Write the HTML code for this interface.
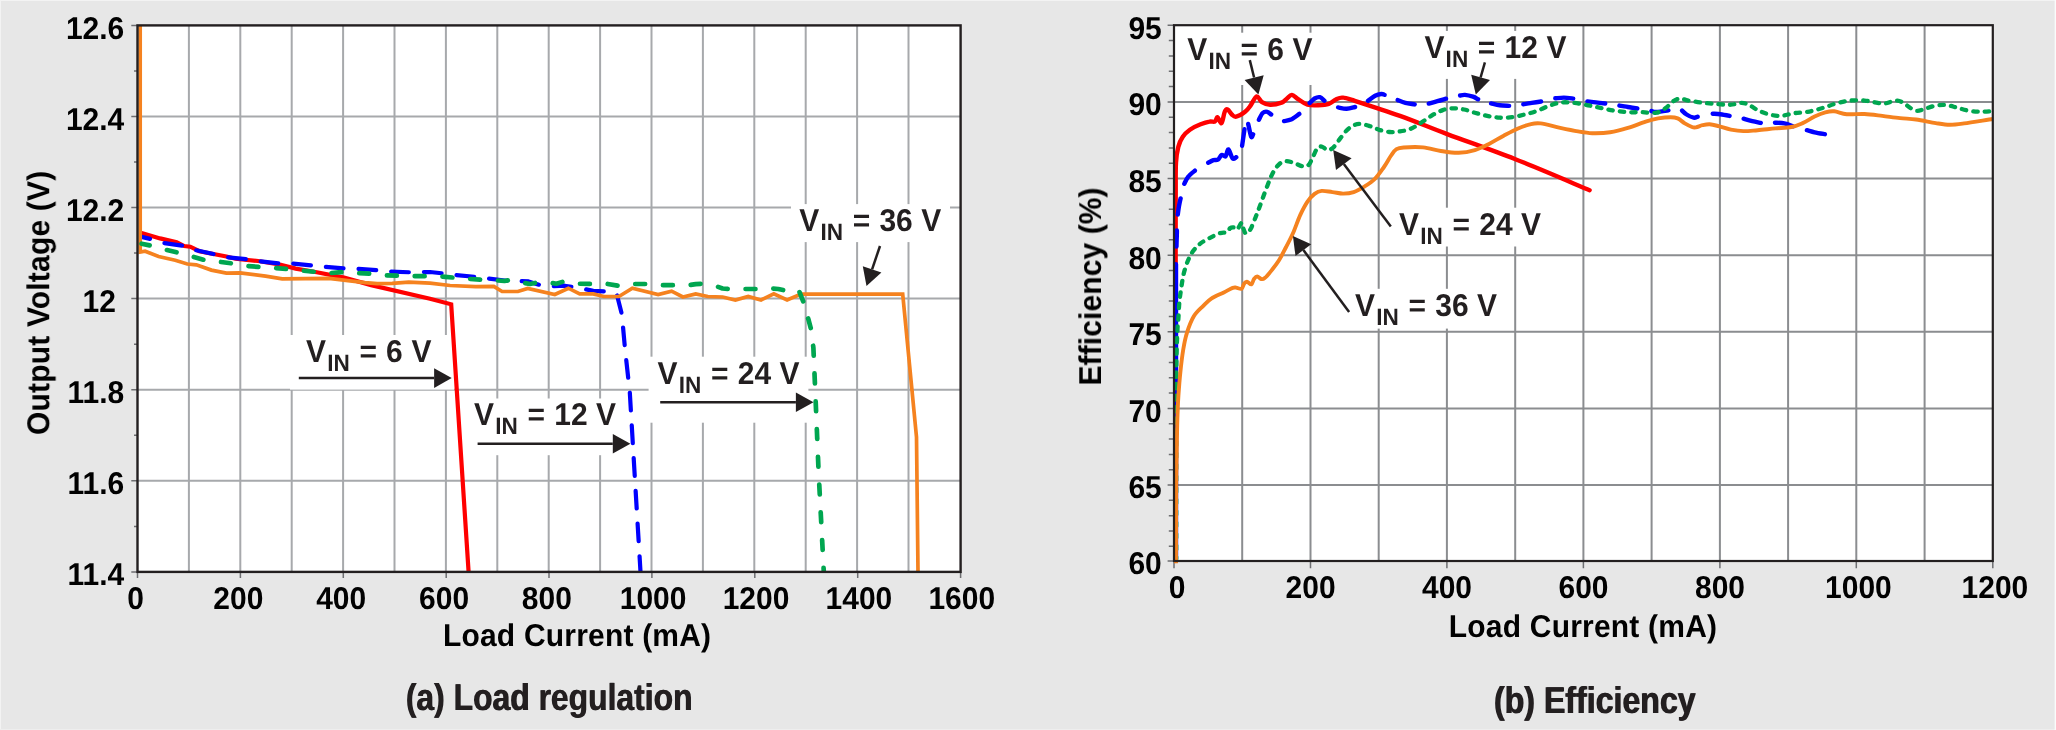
<!DOCTYPE html>
<html><head><meta charset="utf-8"><title>Load regulation and efficiency</title>
<style>html,body{margin:0;padding:0;background:#e7e7e7;}svg{display:block;}</style></head>
<body>
<svg width="2056" height="730" viewBox="0 0 2056 730" font-family="'Liberation Sans', sans-serif" font-weight="bold" text-rendering="geometricPrecision">
<rect width="2056" height="730" fill="#e7e7e7"/>
<rect width="2056" height="1" fill="#f3f3f3"/>
<rect width="1" height="730" fill="#f3f3f3"/>
<rect y="729" width="2056" height="1" fill="#eeeeee"/>
<rect x="2054.6" width="1.4" height="730" fill="#fbfbfb"/>
<rect x="137.5" y="25.4" width="823.1" height="546.5" fill="#fff"/>
<path d="M188.9,25.4V571.9M240.3,25.4V571.9M291.7,25.4V571.9M343.1,25.4V571.9M394.5,25.4V571.9M445.9,25.4V571.9M497.3,25.4V571.9M548.7,25.4V571.9M600.1,25.4V571.9M651.5,25.4V571.9M702.9,25.4V571.9M754.3,25.4V571.9M805.7,25.4V571.9M857.1,25.4V571.9M908.5,25.4V571.9M137.5,116.5H960.6M137.5,207.6H960.6M137.5,298.6H960.6M137.5,389.7H960.6M137.5,480.8H960.6" stroke="#a7a9ac" stroke-width="2" fill="none"/>
<path d="M131.3,25.4H137.5M134.0,70.9H137.5M131.3,116.5H137.5M134.0,162.0H137.5M131.3,207.6H137.5M134.0,253.1H137.5M131.3,298.6H137.5M134.0,344.2H137.5M131.3,389.7H137.5M134.0,435.3H137.5M131.3,480.8H137.5M134.0,526.4H137.5M131.3,571.9H137.5M137.5,571.9V578M240.4,571.9V578M343.3,571.9V578M446.2,571.9V578M549.0,571.9V578M651.9,571.9V578M754.8,571.9V578M857.7,571.9V578M960.6,571.9V578" stroke="#6d6e71" stroke-width="1.5" fill="none"/>
<rect x="290" y="335.0" width="164" height="54.6" fill="#fff"/>
<rect x="470" y="398.5" width="162" height="56.7" fill="#fff"/>
<rect x="648.6" y="356.7" width="159.8" height="66" fill="#fff"/>
<rect x="791" y="204.1" width="159" height="38.0" fill="#fff"/>
<g fill="none" stroke-linejoin="miter" clip-path="url(#cl)">
<path d="M141.6,233.1 L160.1,238.4 L176.7,242.2 L184.2,246.0 L190.3,246.7 L199.3,251.2 L226.4,256.5 L235.5,258.8 L258.1,261.0 L280.7,264.8 L295.7,268.6 L316.8,272.3 L344.0,277.6 L371.1,285.1 L430.0,298.7 L451.2,304.3 L468.6,572.0" stroke="#ff0000" stroke-width="4.2"/>
<path d="M141.6,236.9 L152.6,239.5 L163.1,242.9 L184.2,246.0 L193.3,249.7 L214.4,254.2 L226.4,257.3 L246.0,259.1 L258.1,261.0 L280.7,263.6 L289.7,263.3 L312.3,265.5 L322.9,266.7 L345.5,268.6 L356.0,268.6 L377.1,270.1 L389.2,271.6 L410.2,272.3 L430.0,272.0 L442.6,273.4 L454.7,275.0 L475.7,276.9 L487.0,278.4 L508.9,281.0 L519.4,281.0 L528.5,281.4 L540.5,285.2 L551.1,286.4 L564.6,285.7 L572.9,287.2 L584.2,289.0 L593.3,290.9 L606.1,291.5 L616.6,293.5 L621.9,314.6 L624.9,347.7 L629.8,392.4 L634.5,471.9 L640.5,572.0" stroke="#0000ff" stroke-width="4.2" stroke-dasharray="17.7 15.06" stroke-dashoffset="9.06" stroke-linecap="round" stroke-linejoin="round"/>
<path d="M140.2,24.0 L140.2,252.0 L145.1,251.2 L158.6,256.5 L175.2,260.3 L187.3,264.0 L196.3,264.8 L211.4,270.1 L226.4,273.1 L240.0,272.8 L265.6,276.1 L282.2,278.8 L328.9,278.3 L365.0,282.6 L377.1,283.6 L392.2,283.3 L408.7,282.1 L430.0,283.2 L450.1,285.5 L475.7,286.7 L493.8,286.4 L502.1,291.5 L517.9,291.5 L527.7,288.5 L554.8,294.5 L568.4,288.2 L579.7,293.9 L593.3,293.9 L603.8,296.5 L618.9,296.5 L632.4,288.2 L658.1,294.5 L671.6,291.2 L682.9,297.0 L695.7,293.9 L707.8,296.5 L722.6,297.0 L735.4,300.0 L748.2,296.5 L761.0,300.0 L773.8,293.9 L787.1,300.0 L801.0,294.1 L902.7,294.1 L916.5,437.0 L918.0,572.0" stroke="#f5821f" stroke-width="3.7"/>
<path d="M141.6,243.7 L152.6,246.0 L165.4,249.7 L178.2,252.7 L192.5,256.5 L205.3,260.3 L219.7,261.8 L233.2,263.6 L246.8,266.0 L260.3,267.0 L274.6,268.1 L288.2,269.0 L301.8,270.5 L316.1,272.0 L330.4,273.1 L344.0,272.0 L357.5,273.1 L371.8,273.8 L385.4,275.3 L399.7,275.8 L413.3,276.1 L426.0,276.2 L441.1,276.6 L454.7,277.7 L469.0,278.9 L483.3,279.9 L496.8,280.4 L504.4,281.0 L510.4,279.9 L524.0,282.9 L530.0,284.0 L539.0,282.2 L551.1,282.9 L556.4,283.7 L563.9,281.4 L578.2,283.7 L591.0,284.0 L606.1,283.7 L619.6,286.0 L633.2,284.0 L647.5,284.0 L661.1,285.2 L674.6,285.2 L689.0,285.2 L695.7,284.1 L703.0,283.7 L715.8,286.0 L722.6,288.5 L729.4,289.0 L742.9,289.0 L757.3,289.0 L770.8,288.5 L778.3,289.0 L785.1,290.5 L798.7,290.0 L804.0,303.3 L807.7,316.8 L811.4,330.4 L813.4,348.0 L815.8,404.3 L818.6,471.9 L823.8,572.0" stroke="#00a650" stroke-width="4.7" stroke-dasharray="9.9 17.89" stroke-dashoffset="1.69" stroke-linecap="round" stroke-linejoin="round"/>
</g>
<clipPath id="cl"><rect x="137.5" y="25.4" width="823.1" height="546.5"/></clipPath>
<rect x="137.5" y="25.4" width="823.1" height="546.5" fill="none" stroke="#231f20" stroke-width="2.4"/>
<path d="M298.8,378.1L434.1,378.1" stroke="#231f20" stroke-width="2.5" fill="none"/><path d="M451.7,378.1L434.1,387.9L434.1,368.3Z" fill="#231f20"/>
<path d="M477.6,443.8L612.8,443.8" stroke="#231f20" stroke-width="2.5" fill="none"/><path d="M630.4,443.8L612.8,453.6L612.8,434.0Z" fill="#231f20"/>
<path d="M660.2,402.3L795.9,402.3" stroke="#231f20" stroke-width="2.5" fill="none"/><path d="M813.5,402.3L795.9,412.1L795.9,392.5Z" fill="#231f20"/>
<path d="M880.0,246.0L872.1,269.3" stroke="#231f20" stroke-width="2.5" fill="none"/><path d="M866.5,286.0L862.8,266.2L881.4,272.5Z" fill="#231f20"/>
<rect x="1174.0" y="25.2" width="818.8" height="535.8" fill="#fff"/>
<path d="M1242.2,25.2V561.0M1310.5,25.2V561.0M1378.7,25.2V561.0M1446.9,25.2V561.0M1515.2,25.2V561.0M1583.4,25.2V561.0M1651.6,25.2V561.0M1719.9,25.2V561.0M1788.1,25.2V561.0M1856.3,25.2V561.0M1924.6,25.2V561.0M1174.0,101.9H1992.8M1174.0,178.5H1992.8M1174.0,255.2H1992.8M1174.0,331.8H1992.8M1174.0,408.4H1992.8M1174.0,485.0H1992.8" stroke="#8b8d90" stroke-width="2" fill="none"/>
<path d="M1167.6,25.3H1174.0M1168.8,40.6H1174.0M1168.8,55.9H1174.0M1168.8,71.3H1174.0M1168.8,86.6H1174.0M1167.6,101.9H1174.0M1168.8,117.2H1174.0M1168.8,132.6H1174.0M1168.8,147.9H1174.0M1168.8,163.2H1174.0M1167.6,178.5H1174.0M1168.8,193.9H1174.0M1168.8,209.2H1174.0M1168.8,224.5H1174.0M1168.8,239.8H1174.0M1167.6,255.2H1174.0M1168.8,270.5H1174.0M1168.8,285.8H1174.0M1168.8,301.1H1174.0M1168.8,316.5H1174.0M1167.6,331.8H1174.0M1168.8,347.1H1174.0M1168.8,362.4H1174.0M1168.8,377.8H1174.0M1168.8,393.1H1174.0M1167.6,408.4H1174.0M1168.8,423.7H1174.0M1168.8,439.0H1174.0M1168.8,454.4H1174.0M1168.8,469.7H1174.0M1167.6,485.0H1174.0M1168.8,500.3H1174.0M1168.8,515.7H1174.0M1168.8,531.0H1174.0M1168.8,546.3H1174.0M1167.6,561.0H1174.0M1174.0,561.0V568.3M1310.5,561.0V568.3M1446.9,561.0V568.3M1583.4,561.0V568.3M1719.9,561.0V568.3M1856.3,561.0V568.3M1992.8,561.0V568.3" stroke="#6d6e71" stroke-width="1.5" fill="none"/>
<rect x="1182" y="32.7" width="133" height="52.3" fill="#fff"/>
<rect x="1420" y="30.9" width="150" height="48.0" fill="#fff"/>
<rect x="1395" y="207.7" width="150" height="38.8" fill="#fff"/>
<rect x="1350" y="288.8" width="150" height="39.8" fill="#fff"/>
<clipPath id="cr"><rect x="1174.0" y="25.2" width="818.8" height="538.0"/></clipPath>
<g fill="none" stroke-linejoin="round" clip-path="url(#cr)">
<path d="M1175.6,561.0 C1175.6,517.5 1175.6,360.2 1175.6,300.0 C1175.6,239.8 1175.6,222.9 1175.7,200.0 C1175.8,177.1 1175.5,171.5 1176.0,162.6 C1176.5,153.7 1177.3,150.9 1178.4,146.6 C1179.5,142.3 1180.9,139.6 1182.8,136.8 C1184.7,134.0 1186.9,131.8 1189.9,129.7 C1192.9,127.6 1197.3,125.6 1200.6,124.3 C1203.9,123.0 1207.1,122.0 1209.5,121.6 C1211.9,121.1 1213.6,122.3 1214.9,121.6 C1216.2,120.9 1216.4,117.0 1217.5,117.2 C1218.6,117.5 1220.4,124.0 1221.6,123.1 C1222.8,122.2 1223.7,114.1 1224.7,111.8 C1225.7,109.5 1226.5,109.0 1227.7,109.5 C1228.9,110.0 1230.4,113.3 1231.8,114.5 C1233.2,115.7 1234.0,117.2 1236.2,116.7 C1238.4,116.2 1242.7,113.7 1245.1,111.8 C1247.5,109.9 1248.6,108.2 1250.5,105.6 C1252.4,103.0 1254.8,97.0 1256.7,96.4 C1258.6,95.8 1259.8,100.7 1262.0,102.1 C1264.2,103.5 1266.8,104.6 1270.1,104.7 C1273.4,104.8 1278.8,103.6 1281.6,102.6 C1284.4,101.6 1285.3,99.8 1287.0,98.5 C1288.7,97.2 1289.9,94.8 1291.8,94.9 C1293.7,95.1 1295.9,97.8 1298.5,99.4 C1301.1,101.0 1304.2,103.7 1307.5,104.7 C1310.8,105.7 1314.5,105.5 1318.1,105.3 C1321.6,105.1 1325.8,104.8 1328.8,103.8 C1331.8,102.8 1333.7,100.4 1335.9,99.4 C1338.1,98.4 1339.5,97.5 1342.2,97.6 C1344.9,97.7 1342.4,96.9 1352.0,99.9 C1361.6,103.0 1384.1,110.2 1400.0,115.9 C1415.9,121.6 1428.1,126.9 1447.2,134.1 C1466.3,141.3 1491.1,149.7 1514.8,159.0 C1538.5,168.3 1577.1,185.0 1589.6,190.2" stroke="#ff0000" stroke-width="4.4" stroke-linecap="round"/>
<path d="M1176.0,558.8 C1176.0,509.7 1176.0,313.3 1176.0,264.2 M1176.5,246.6 C1176.5,244.8 1176.7,238.7 1176.8,236.0 C1176.9,233.3 1176.9,231.4 1176.9,230.5 M1177.8,214.5 C1178.0,213.1 1178.5,208.7 1179.0,206.0 C1179.5,203.3 1180.3,199.6 1180.6,198.4 M1184.3,183.8 C1184.9,182.6 1186.3,179.0 1188.1,176.8 C1189.9,174.6 1193.7,171.7 1194.9,170.7 M1208.2,162.8 C1209.0,162.4 1211.8,160.7 1213.4,160.2 C1215.0,159.7 1216.5,160.5 1217.9,159.7 C1219.3,158.8 1220.3,155.7 1221.6,155.1 C1222.9,154.5 1224.6,157.2 1225.7,156.3 C1226.8,155.4 1227.2,149.1 1228.4,149.4 C1229.6,149.8 1231.3,157.1 1232.6,158.4 C1233.9,159.7 1235.7,157.4 1236.3,157.2 M1242.1,145.8 C1242.3,144.4 1242.9,140.3 1243.3,137.5 C1243.7,134.7 1244.3,130.6 1244.5,129.2 M1248.2,123.9 C1248.7,126.1 1250.4,135.1 1251.2,136.8 C1252.0,138.5 1252.8,134.8 1253.1,134.3 M1258.9,119.7 C1259.5,118.6 1261.3,114.3 1262.7,113.0 C1264.1,111.7 1265.9,111.5 1267.3,111.8 C1268.7,112.1 1270.5,114.1 1271.2,114.5 M1284.1,121.1 C1285.2,120.8 1288.5,120.8 1291.0,119.6 C1293.5,118.4 1297.9,114.8 1299.3,113.9 M1309.7,103.0 C1310.5,102.3 1312.9,99.5 1314.6,98.5 C1316.3,97.5 1318.3,96.8 1319.9,97.2 C1321.5,97.6 1323.6,100.1 1324.4,100.7 M1338.1,107.4 C1339.5,107.6 1343.8,108.9 1346.6,108.8 C1349.4,108.7 1353.7,107.3 1355.1,107.0 M1368.0,100.8 C1369.2,100.0 1372.9,96.9 1375.1,95.8 C1377.3,94.7 1379.7,94.2 1381.3,94.0 C1382.9,93.8 1384.0,94.7 1384.6,94.8 M1397.7,100.1 C1399.0,100.6 1402.6,102.2 1405.4,102.9 C1408.2,103.6 1413.2,104.1 1414.7,104.4 M1428.8,103.6 C1430.2,103.2 1434.5,102.0 1437.4,101.2 C1440.3,100.4 1444.6,99.1 1446.0,98.7 M1460.1,95.5 C1460.9,95.4 1462.8,94.7 1465.0,94.9 C1467.2,95.1 1470.8,96.0 1473.0,96.7 C1475.2,97.4 1477.3,98.9 1478.1,99.3 M1491.1,103.4 C1492.6,103.7 1496.7,104.9 1499.7,105.3 C1502.7,105.7 1507.5,105.8 1509.1,105.9 M1523.3,104.3 C1524.7,104.1 1528.7,103.4 1531.7,102.9 C1534.7,102.4 1539.6,101.7 1541.1,101.5 M1555.3,98.3 C1556.7,98.2 1560.8,97.6 1563.8,97.6 C1566.8,97.6 1571.6,98.4 1573.2,98.6 M1587.4,101.4 C1588.8,101.6 1592.8,102.1 1595.8,102.4 C1598.8,102.7 1603.6,103.3 1605.2,103.5 M1619.4,105.6 C1620.8,105.9 1624.9,106.5 1627.9,107.0 C1630.9,107.5 1635.8,108.2 1637.3,108.5 M1651.4,111.0 C1652.2,111.2 1653.6,112.1 1656.4,112.0 C1659.2,111.9 1666.4,110.7 1668.4,110.4 M1682.1,110.6 C1682.8,111.3 1684.7,113.3 1686.6,114.5 C1688.5,115.7 1691.9,117.3 1693.7,117.7 C1695.5,118.1 1697.0,116.9 1697.7,116.8 M1712.7,113.7 C1714.0,113.8 1717.5,113.8 1720.3,114.2 C1723.1,114.6 1728.1,115.6 1729.6,115.9 M1743.7,118.7 C1745.1,119.1 1749.4,120.4 1752.3,121.1 C1755.2,121.8 1759.4,122.6 1760.8,122.9 M1775.0,122.7 C1776.6,122.8 1781.4,122.8 1784.4,123.4 C1787.4,124.0 1791.5,125.8 1792.9,126.3 M1806.9,130.2 C1808.2,130.5 1811.6,131.6 1814.6,132.3 C1817.6,133.0 1823.2,133.9 1824.9,134.2" stroke="#0000ff" stroke-width="4.4" stroke-linecap="round"/>
<path d="M1176.2,561.0 C1176.2,533.5 1176.2,429.7 1176.2,395.8 C1176.2,361.9 1176.3,368.7 1176.5,357.5 C1176.7,346.3 1177.2,335.4 1177.5,328.8 C1177.8,322.2 1178.1,322.3 1178.4,318.2 C1178.7,314.1 1178.8,308.8 1179.2,304.0 C1179.6,299.2 1180.2,294.8 1181.0,289.7 C1181.8,284.6 1182.5,278.6 1183.7,273.7 C1184.9,268.8 1186.5,264.2 1188.1,260.3 C1189.7,256.4 1191.4,253.3 1193.5,250.5 C1195.6,247.7 1197.9,245.5 1200.6,243.4 C1203.3,241.3 1206.2,239.8 1209.5,238.1 C1212.8,236.4 1217.2,234.0 1220.2,233.1 C1223.2,232.2 1225.7,233.2 1227.3,232.4 C1228.9,231.6 1229.0,229.1 1230.0,228.3 C1231.0,227.5 1232.4,227.2 1233.6,227.4 C1234.8,227.6 1235.8,230.2 1237.1,229.5 C1238.4,228.8 1240.6,223.1 1241.6,222.9 C1242.6,222.7 1242.6,226.5 1243.3,228.3 C1244.0,230.1 1244.8,233.4 1246.0,233.6 C1247.2,233.8 1248.9,232.0 1250.5,229.2 C1252.1,226.4 1254.0,221.1 1255.8,216.7 C1257.6,212.2 1259.3,207.7 1261.2,202.5 C1263.1,197.3 1265.6,190.3 1267.4,185.7 C1269.2,181.1 1270.2,178.3 1271.8,175.1 C1273.4,171.8 1275.1,168.5 1277.2,166.2 C1279.3,163.9 1281.6,161.8 1284.3,161.2 C1287.0,160.6 1290.2,161.8 1293.2,162.6 C1296.2,163.4 1299.6,165.8 1302.1,166.2 C1304.6,166.6 1306.5,166.8 1308.3,165.3 C1310.1,163.8 1311.3,160.1 1312.8,157.3 C1314.3,154.5 1315.7,150.1 1317.2,148.3 C1318.7,146.5 1319.9,146.3 1321.7,146.6 C1323.5,146.9 1326.0,149.9 1327.9,150.1 C1329.8,150.2 1331.4,149.3 1333.3,147.5 C1335.2,145.7 1337.3,142.2 1339.5,139.4 C1341.7,136.6 1344.2,132.9 1346.6,130.5 C1349.0,128.1 1351.3,126.3 1353.7,125.2 C1356.1,124.1 1358.2,123.8 1360.9,124.0 C1363.6,124.2 1366.8,125.1 1369.8,126.1 C1372.8,127.0 1375.4,128.7 1378.7,129.7 C1382.0,130.7 1385.9,131.7 1389.4,132.0 C1393.0,132.3 1396.5,131.9 1400.0,131.4 C1403.5,130.9 1407.1,130.3 1410.7,128.8 C1414.3,127.3 1417.9,124.7 1421.4,122.5 C1425.0,120.3 1428.5,117.5 1432.0,115.4 C1435.5,113.3 1439.1,111.3 1442.7,110.1 C1446.3,108.9 1449.8,108.4 1453.4,108.3 C1457.0,108.2 1460.5,108.8 1464.1,109.5 C1467.7,110.2 1470.9,111.6 1474.8,112.7 C1478.7,113.8 1483.0,115.1 1487.2,115.9 C1491.4,116.7 1495.5,117.5 1499.7,117.7 C1503.9,117.9 1508.1,117.7 1512.2,117.2 C1516.3,116.7 1520.4,115.5 1524.6,114.5 C1528.8,113.5 1532.9,112.4 1537.1,110.9 C1541.2,109.4 1545.7,107.0 1549.5,105.6 C1553.3,104.2 1556.6,103.1 1560.2,102.6 C1563.8,102.1 1566.7,102.2 1570.9,102.6 C1575.1,102.9 1580.5,103.8 1585.2,104.7 C1590.0,105.6 1594.7,106.7 1599.4,107.7 C1604.1,108.7 1608.8,109.8 1613.6,110.6 C1618.3,111.3 1623.2,111.9 1627.9,112.2 C1632.7,112.5 1637.3,112.1 1642.1,112.2 C1646.8,112.3 1652.5,113.4 1656.4,112.7 C1660.3,112.0 1662.5,110.2 1665.3,108.3 C1668.1,106.4 1670.8,102.8 1673.3,101.2 C1675.8,99.6 1677.9,98.6 1680.4,98.5 C1682.9,98.4 1684.4,99.9 1688.4,100.6 C1692.4,101.3 1699.2,102.3 1704.2,102.9 C1709.2,103.5 1714.0,103.9 1718.5,104.2 C1723.0,104.5 1727.1,104.9 1730.9,104.7 C1734.8,104.5 1738.6,102.9 1741.6,102.9 C1744.6,102.9 1746.0,103.5 1748.7,104.7 C1751.4,105.9 1754.3,108.5 1757.6,110.1 C1760.9,111.7 1764.4,113.2 1768.3,114.2 C1772.2,115.2 1776.6,116.1 1780.8,115.9 C1785.0,115.8 1788.8,114.0 1793.3,113.3 C1797.8,112.6 1802.8,112.6 1807.5,111.8 C1812.2,111.0 1817.0,109.7 1821.7,108.3 C1826.5,106.9 1831.2,104.8 1836.0,103.5 C1840.8,102.2 1845.5,101.1 1850.2,100.6 C1855.0,100.1 1860.3,100.3 1864.5,100.6 C1868.7,100.9 1871.9,101.9 1875.2,102.4 C1878.5,102.9 1881.4,103.6 1884.1,103.5 C1886.8,103.4 1889.0,102.2 1891.2,101.7 C1893.4,101.2 1895.3,100.4 1897.4,100.6 C1899.5,100.8 1901.4,101.6 1903.6,102.9 C1905.8,104.2 1908.6,107.0 1910.8,108.3 C1913.0,109.6 1914.6,110.8 1917.0,110.9 C1919.4,111.0 1921.9,109.7 1925.0,108.8 C1928.1,107.9 1932.1,106.2 1935.7,105.6 C1939.3,105.0 1942.9,104.8 1946.4,105.1 C1950.0,105.4 1953.2,106.7 1957.0,107.7 C1960.8,108.7 1965.3,110.2 1969.5,110.9 C1973.7,111.6 1978.1,111.8 1982.0,111.8 C1985.9,111.8 1991.0,111.1 1992.8,111.0" stroke="#00a650" stroke-width="4.3" stroke-dasharray="4.4 7.1" stroke-linecap="round"/>
<path d="M1176.0,564.0 C1176.0,550.8 1176.0,505.7 1176.2,485.0 C1176.4,464.3 1176.7,451.7 1176.9,440.0 C1177.1,428.3 1177.2,422.4 1177.5,415.0 C1177.8,407.6 1177.9,402.8 1178.4,395.8 C1178.9,388.8 1179.5,380.5 1180.3,372.8 C1181.1,365.1 1182.1,356.5 1183.2,349.8 C1184.3,343.1 1185.2,338.2 1187.0,332.6 C1188.8,327.0 1191.1,320.8 1193.8,316.3 C1196.5,311.8 1200.4,308.8 1203.3,305.8 C1206.2,302.9 1207.9,300.8 1211.3,298.6 C1214.7,296.4 1220.2,294.2 1223.8,292.4 C1227.4,290.6 1230.6,288.7 1232.7,287.9 C1234.8,287.1 1234.7,287.5 1236.2,287.6 C1237.7,287.8 1240.3,289.5 1241.6,288.8 C1242.9,288.1 1243.3,284.7 1244.2,283.5 C1245.1,282.3 1245.7,281.6 1246.9,281.7 C1248.1,281.8 1250.2,284.8 1251.4,284.4 C1252.6,283.9 1253.0,280.3 1254.0,279.0 C1255.0,277.7 1256.0,276.4 1257.2,276.4 C1258.4,276.4 1260.0,278.7 1261.2,279.0 C1262.5,279.3 1262.9,279.6 1264.7,278.1 C1266.5,276.6 1269.4,273.1 1271.8,270.1 C1274.2,267.1 1276.6,264.2 1279.0,260.3 C1281.4,256.4 1283.7,251.6 1286.1,247.0 C1288.5,242.4 1290.8,238.0 1293.2,232.7 C1295.6,227.3 1297.9,220.1 1300.3,214.9 C1302.7,209.7 1305.1,205.1 1307.5,201.6 C1309.9,198.1 1312.2,195.7 1314.6,193.9 C1317.0,192.1 1318.7,191.2 1321.7,190.9 C1324.7,190.6 1328.8,191.7 1332.4,192.1 C1336.0,192.5 1339.5,193.6 1343.1,193.6 C1346.6,193.6 1350.2,193.3 1353.7,192.1 C1357.2,190.9 1360.8,188.8 1364.4,186.6 C1368.0,184.3 1371.8,181.9 1375.1,178.6 C1378.4,175.3 1381.3,170.8 1384.0,167.0 C1386.7,163.2 1389.0,158.5 1391.1,155.5 C1393.2,152.5 1394.4,150.5 1396.5,149.2 C1398.6,147.9 1399.2,147.8 1403.6,147.5 C1408.0,147.2 1416.9,146.8 1423.1,147.4 C1429.3,148.0 1435.0,150.1 1440.9,151.0 C1446.8,151.9 1453.1,153.0 1458.7,152.8 C1464.3,152.7 1469.8,151.6 1474.8,150.1 C1479.8,148.6 1484.2,146.3 1489.0,143.9 C1493.8,141.5 1498.5,138.4 1503.3,135.9 C1508.0,133.4 1513.0,130.6 1517.5,128.7 C1522.0,126.8 1526.2,125.2 1530.0,124.3 C1533.8,123.4 1535.6,122.8 1540.6,123.4 C1545.6,124.0 1554.0,126.6 1560.2,127.9 C1566.4,129.2 1572.7,130.5 1578.0,131.4 C1583.3,132.3 1587.0,133.0 1592.3,133.2 C1597.6,133.3 1604.2,133.2 1610.1,132.3 C1616.0,131.4 1622.0,129.7 1627.9,127.9 C1633.8,126.1 1640.7,123.2 1645.7,121.6 C1650.7,120.0 1653.9,119.1 1658.1,118.4 C1662.2,117.7 1667.3,117.2 1670.6,117.2 C1673.9,117.2 1675.3,117.4 1677.7,118.4 C1680.1,119.4 1682.4,122.0 1684.8,123.4 C1687.2,124.8 1690.1,126.3 1692.0,127.0 C1693.9,127.7 1694.2,127.6 1696.0,127.3 C1697.8,127.0 1700.2,125.7 1702.5,125.2 C1704.8,124.7 1706.9,124.2 1709.6,124.3 C1712.3,124.4 1715.0,125.2 1718.5,126.1 C1722.0,127.0 1726.8,128.8 1730.9,129.6 C1735.1,130.4 1739.0,131.0 1743.4,131.1 C1747.9,131.2 1752.2,130.6 1757.6,130.2 C1762.9,129.8 1769.8,128.9 1775.5,128.4 C1781.2,127.9 1787.0,127.8 1791.5,127.0 C1796.0,126.2 1798.4,125.1 1802.2,123.4 C1806.0,121.7 1810.8,118.4 1814.6,116.6 C1818.4,114.8 1822.0,113.3 1825.3,112.4 C1828.6,111.5 1830.6,111.0 1834.2,111.3 C1837.8,111.6 1841.7,113.8 1846.7,114.2 C1851.8,114.7 1858.6,113.7 1864.5,114.0 C1870.4,114.3 1876.4,115.2 1882.3,115.9 C1888.2,116.6 1894.5,117.5 1900.1,118.1 C1905.7,118.7 1910.2,118.7 1916.1,119.5 C1922.0,120.3 1930.1,122.2 1935.7,123.1 C1941.3,124.0 1945.2,124.8 1949.9,124.8 C1954.7,124.8 1957.1,124.4 1964.2,123.4 C1971.3,122.4 1988.0,119.7 1992.8,119.0" stroke="#f5821f" stroke-width="3.9"/>
</g>
<rect x="1174.0" y="25.2" width="818.8" height="535.8" fill="none" stroke="#231f20" stroke-width="2.2"/>
<path d="M1249.8,60.1L1254.1,77.5" stroke="#231f20" stroke-width="2.5" fill="none"/><path d="M1258.4,94.6L1244.6,79.9L1263.7,75.2Z" fill="#231f20"/>
<path d="M1484.9,62.3L1480.6,77.5" stroke="#231f20" stroke-width="2.5" fill="none"/><path d="M1475.8,94.4L1471.2,74.8L1490.0,80.1Z" fill="#231f20"/>
<path d="M1390.8,226.4L1343.8,164.1" stroke="#231f20" stroke-width="2.5" fill="none"/><path d="M1333.2,150.1L1351.6,158.2L1336.0,170.1Z" fill="#231f20"/>
<path d="M1349.1,311.9L1303.4,250.1" stroke="#231f20" stroke-width="2.5" fill="none"/><path d="M1292.9,235.9L1311.2,244.2L1295.5,255.9Z" fill="#231f20"/>
<g style="opacity:0.999">
<g transform="translate(306.2,361.9) scale(1,1.05)" font-size="30" fill="#231f20"><text x="-0.2" y="0">V</text><text x="21.0" y="8.8" font-size="22.6">IN</text><text x="53.2" y="0">=</text><text x="79.9" y="0">6</text><text x="105.2" y="0">V</text></g>
<g transform="translate(474.3,424.8) scale(1,1.05)" font-size="30" fill="#231f20"><text x="-0.2" y="0">V</text><text x="21.0" y="8.8" font-size="22.6">IN</text><text x="53.2" y="0">=</text><text x="79.9" y="0">12</text><text x="121.8" y="0">V</text></g>
<g transform="translate(657.8,383.7) scale(1,1.05)" font-size="30" fill="#231f20"><text x="-0.2" y="0">V</text><text x="21.0" y="8.8" font-size="22.6">IN</text><text x="53.2" y="0">=</text><text x="79.9" y="0">24</text><text x="121.8" y="0">V</text></g>
<g transform="translate(799.5,231.0) scale(1,1.05)" font-size="30" fill="#231f20"><text x="-0.2" y="0">V</text><text x="21.0" y="8.8" font-size="22.6">IN</text><text x="53.2" y="0">=</text><text x="79.9" y="0">36</text><text x="121.8" y="0">V</text></g>
<text transform="translate(124.3,38.7) scale(1.0,1.05)" font-size="30" text-anchor="end" fill="#000">12.6</text>
<text transform="translate(124.3,129.8) scale(1.0,1.05)" font-size="30" text-anchor="end" fill="#000">12.4</text>
<text transform="translate(124.3,220.9) scale(1.0,1.05)" font-size="30" text-anchor="end" fill="#000">12.2</text>
<text transform="translate(115.9,311.9) scale(1.0,1.05)" font-size="30" text-anchor="end" fill="#000">12</text>
<text transform="translate(124.3,403.0) scale(1.0,1.05)" font-size="30" text-anchor="end" fill="#000">11.8</text>
<text transform="translate(124.3,494.1) scale(1.0,1.05)" font-size="30" text-anchor="end" fill="#000">11.6</text>
<text transform="translate(124.3,585.2) scale(1.0,1.05)" font-size="30" text-anchor="end" fill="#000">11.4</text>
<text transform="translate(135.7,608.8) scale(1.0,1.05)" font-size="30" text-anchor="middle" fill="#000">0</text>
<text transform="translate(238.3,608.8) scale(1.0,1.05)" font-size="30" text-anchor="middle" fill="#000">200</text>
<text transform="translate(341.2,608.8) scale(1.0,1.05)" font-size="30" text-anchor="middle" fill="#000">400</text>
<text transform="translate(444.1,608.8) scale(1.0,1.05)" font-size="30" text-anchor="middle" fill="#000">600</text>
<text transform="translate(546.9,608.8) scale(1.0,1.05)" font-size="30" text-anchor="middle" fill="#000">800</text>
<text transform="translate(653.1,608.8) scale(1.0,1.05)" font-size="30" text-anchor="middle" fill="#000">1000</text>
<text transform="translate(756.0,608.8) scale(1.0,1.05)" font-size="30" text-anchor="middle" fill="#000">1200</text>
<text transform="translate(858.9,608.8) scale(1.0,1.05)" font-size="30" text-anchor="middle" fill="#000">1400</text>
<text transform="translate(961.8,608.8) scale(1.0,1.05)" font-size="30" text-anchor="middle" fill="#000">1600</text>
<text transform="translate(442.9,645.5) scale(1.0,1.05)" font-size="30" text-anchor="start" fill="#000" letter-spacing="0.2">Load Current (mA)</text>
<text transform="translate(49.5,435.0) rotate(-90) scale(1.0,1.05)" font-size="30" text-anchor="start" fill="#000" letter-spacing="0.18">Output Voltage (V)</text>
<text transform="translate(405.4,710.4) scale(0.885,1.04)" font-size="36" text-anchor="start" fill="#231f20">(a) Load regulation</text>
<text transform="translate(406.2,710.4) scale(0.885,1.04)" font-size="36" text-anchor="start" fill="#231f20">(a) Load regulation</text>
<g transform="translate(1187.4,59.6) scale(1,1.05)" font-size="30" fill="#231f20"><text x="-0.2" y="0">V</text><text x="21.0" y="8.8" font-size="22.6">IN</text><text x="53.2" y="0">=</text><text x="79.9" y="0">6</text><text x="105.2" y="0">V</text></g>
<g transform="translate(1424.6,57.6) scale(1,1.05)" font-size="30" fill="#231f20"><text x="-0.2" y="0">V</text><text x="21.0" y="8.8" font-size="22.6">IN</text><text x="53.2" y="0">=</text><text x="79.9" y="0">12</text><text x="121.8" y="0">V</text></g>
<g transform="translate(1399.3,234.7) scale(1,1.05)" font-size="30" fill="#231f20"><text x="-0.2" y="0">V</text><text x="21.0" y="8.8" font-size="22.6">IN</text><text x="53.2" y="0">=</text><text x="79.9" y="0">24</text><text x="121.8" y="0">V</text></g>
<g transform="translate(1355.3,316.1) scale(1,1.05)" font-size="30" fill="#231f20"><text x="-0.2" y="0">V</text><text x="21.0" y="8.8" font-size="22.6">IN</text><text x="53.2" y="0">=</text><text x="79.9" y="0">36</text><text x="121.8" y="0">V</text></g>
<text transform="translate(1161.8,38.6) scale(1.0,1.05)" font-size="30" text-anchor="end" fill="#000">95</text>
<text transform="translate(1161.8,115.2) scale(1.0,1.05)" font-size="30" text-anchor="end" fill="#000">90</text>
<text transform="translate(1161.8,191.8) scale(1.0,1.05)" font-size="30" text-anchor="end" fill="#000">85</text>
<text transform="translate(1161.8,268.5) scale(1.0,1.05)" font-size="30" text-anchor="end" fill="#000">80</text>
<text transform="translate(1161.8,345.1) scale(1.0,1.05)" font-size="30" text-anchor="end" fill="#000">75</text>
<text transform="translate(1161.8,421.7) scale(1.0,1.05)" font-size="30" text-anchor="end" fill="#000">70</text>
<text transform="translate(1161.8,498.3) scale(1.0,1.05)" font-size="30" text-anchor="end" fill="#000">65</text>
<text transform="translate(1161.8,574.3) scale(1.0,1.05)" font-size="30" text-anchor="end" fill="#000">60</text>
<text transform="translate(1177.0,598.0) scale(1.0,1.05)" font-size="30" text-anchor="middle" fill="#000">0</text>
<text transform="translate(1310.6,598.0) scale(1.0,1.05)" font-size="30" text-anchor="middle" fill="#000">200</text>
<text transform="translate(1447.0,598.0) scale(1.0,1.05)" font-size="30" text-anchor="middle" fill="#000">400</text>
<text transform="translate(1583.5,598.0) scale(1.0,1.05)" font-size="30" text-anchor="middle" fill="#000">600</text>
<text transform="translate(1720.0,598.0) scale(1.0,1.05)" font-size="30" text-anchor="middle" fill="#000">800</text>
<text transform="translate(1858.4,598.0) scale(1.0,1.05)" font-size="30" text-anchor="middle" fill="#000">1000</text>
<text transform="translate(1994.9,598.0) scale(1.0,1.05)" font-size="30" text-anchor="middle" fill="#000">1200</text>
<text transform="translate(1448.8,637.4) scale(1.0,1.05)" font-size="30" text-anchor="start" fill="#000" letter-spacing="0.2">Load Current (mA)</text>
<text transform="translate(1101.3,385.5) rotate(-90) scale(1.0,1.05)" font-size="30" text-anchor="start" fill="#000" letter-spacing="0.1">Efficiency (%)</text>
<text transform="translate(1493.5,712.6) scale(0.892,1.04)" font-size="36" text-anchor="start" fill="#231f20">(b) Efficiency</text>
<text transform="translate(1494.5,712.6) scale(0.892,1.04)" font-size="36" text-anchor="start" fill="#231f20">(b) Efficiency</text>
</g>
</svg>
</body></html>
